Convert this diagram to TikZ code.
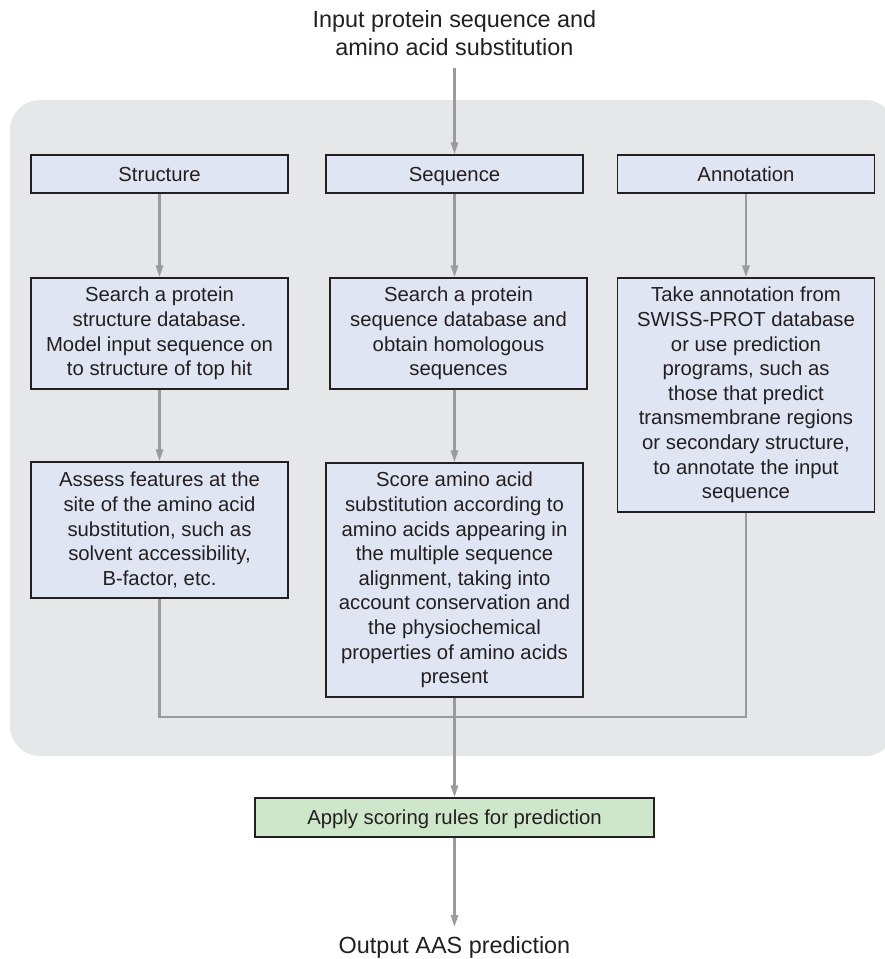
\documentclass[tikz,border=0pt]{standalone}
\usepackage{fontspec}
\setmainfont{Liberation Sans}
\usetikzlibrary{arrows.meta,calc}
\definecolor{bgray}{HTML}{E6E7E9}
\definecolor{boxblue}{HTML}{DFE5F3}
\definecolor{boxgreen}{HTML}{CEE7CA}
\definecolor{ink}{HTML}{231F20}
\definecolor{conn}{HTML}{9B9B9E}
\tikzset{
  box/.style={draw=ink, line width=1.2pt, fill=boxblue, text=ink, inner sep=0pt, align=center,
    minimum width=257pt, font=\fontsize{20.3}{24.6}\selectfont},
  oneline/.style={text height=14.5pt, text depth=0pt},
  gbox/.style={box, fill=boxgreen},
  label/.style={text=ink, align=center, inner sep=0pt, font=\fontsize{23.4}{27.5}\selectfont},
  conn/.style={draw=conn, line width=2.6pt},
  arr/.style={conn, -{Triangle[width=7pt,length=12pt]}},
}
\begin{document}
\begin{tikzpicture}[x=1pt,y=-1pt]
\useasboundingbox (0,0) rectangle (885,959);
\fill[bgray, rounded corners=30pt] (10,100) rectangle (895,756);
% title and output
\node[label] (inp) at (454.5,33) {Input protein sequence and\\amino acid substitution};
\coordinate (inpend) at (454.5,68);
\node[label, oneline] (out) at (454.5,946) {Output AAS prediction};
\coordinate (outtip) at (454.5,927);
% top row
\node[box, oneline, minimum height=38pt] (struct) at (159.5,174) {Structure};
\node[box, oneline, minimum height=38pt] (seq) at (454.5,174) {Sequence};
\node[box, oneline, minimum height=38pt] (annot) at (746,174) {Annotation};
% second row
\node[box, minimum height=111pt] (ssearch) at (159.5,333.5) {Search a protein\\structure database.\\Model input sequence on\\to structure of top hit};
\node[box, minimum height=111pt] (qsearch) at (458.5,333.5) {Search a protein\\sequence database and\\obtain homologous\\sequences};
\node[box, minimum height=234pt] (take) at (746,395) {Take annotation from\\SWISS-PROT database\\or use prediction\\programs, such as\\those that predict\\transmembrane regions\\or secondary structure,\\to annotate the input\\sequence};
% third row
\node[box, minimum height=136pt] (assess) at (159.5,530) {Assess features at the\\site of the amino acid\\substitution, such as\\solvent accessibility,\\B-factor, etc.};
\node[box, minimum height=234pt] (score) at (454.5,580) {Score amino acid\\substitution according to\\amino acids appearing in\\the multiple sequence\\alignment, taking into\\account conservation and\\the physiochemical\\properties of amino acids\\present};
% apply
\node[gbox, oneline, minimum width=399pt, minimum height=39pt] (apply) at (454.5,817.5) {Apply scoring rules for prediction};
% connectors
\draw[arr] (inpend) -- (seq.north);
\draw[arr] (struct.south) -- (ssearch.north -| struct.south);
\draw[arr] (ssearch.south) -- (assess.north);
\draw[arr] (seq.south) -- (seq.south |- qsearch.north);
\draw[arr] (seq.south |- qsearch.south) -- (score.north);
\draw[arr] (annot.south) -- (take.north);
\coordinate (jl) at (159.5,717);
\draw[conn] (assess.south) -- (jl) -| (take.south);
\draw[arr] (score.south) -- (apply.north);
\draw[arr] (apply.south) -- (outtip);
\end{tikzpicture}
\end{document}
